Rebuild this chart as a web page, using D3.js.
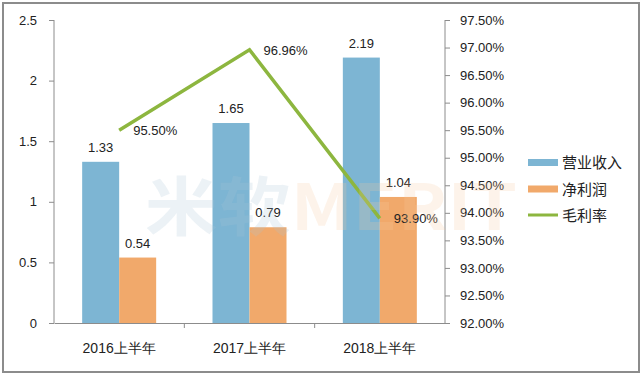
<!DOCTYPE html>
<html>
<head>
<meta charset="utf-8">
<script src="https://cdn.jsdelivr.net/npm/d3@7"></script>
<style>
body { margin: 0; background: #fff; }
text { font-family: "Liberation Sans", Arial, "Noto Sans CJK SC", sans-serif; }
</style>
</head>
<body>
<svg></svg>
<script>
const width = 643;
const height = 376;

const categories = ['2016上半年', '2017上半年', '2018上半年'];
const revenue = [1.33, 1.65, 2.19];
const profit = [0.54, 0.79, 1.04];
const margin = [95.50, 96.96, 93.90];
const leftTicks = [0, 0.5, 1, 1.5, 2, 2.5];
const rightTicks = [92, 92.5, 93, 93.5, 94, 94.5, 95, 95.5, 96, 96.5, 97, 97.5];
const legendNames = ['营业收入', '净利润', '毛利率'];

const colors = { revenue: '#7db5d3', profit: '#f1a96b', margin: '#8db63f' };

const svg = d3.select('svg').attr('width', width).attr('height', height);

// outer frame
svg.append('rect')
    .attr('x', 3).attr('y', 3).attr('width', width - 7).attr('height', height - 7)
    .attr('fill', '#fff').attr('stroke', '#8c8c8c').attr('stroke-width', 2);

const plot = { left: 54, right: 445, top: 20, bottom: 323 };

const x = d3.scaleBand().domain(categories).range([plot.left, plot.right]);
const y = d3.scaleLinear().domain([0, 2.5]).range([plot.bottom, plot.top]);
const y2 = d3.scaleLinear().domain([92, 97.5]).range([plot.bottom, plot.top]);
const barW = 37;

// bars
const g = svg.append('g');
g.selectAll('.rev').data(revenue).enter().append('rect')
    .attr('x', (d, i) => x(categories[i]) + x.bandwidth() / 2 - barW)
    .attr('y', d => y(d))
    .attr('width', barW)
    .attr('height', d => y(0) - y(d))
    .attr('fill', colors.revenue);
g.selectAll('.pro').data(profit).enter().append('rect')
    .attr('x', (d, i) => x(categories[i]) + x.bandwidth() / 2)
    .attr('y', d => y(d))
    .attr('width', barW)
    .attr('height', d => y(0) - y(d))
    .attr('fill', colors.profit);

// bar labels
g.selectAll('.revl').data(revenue).enter().append('text')
    .attr('x', (d, i) => x(categories[i]) + x.bandwidth() / 2 - barW / 2)
    .attr('y', d => y(d) - 10)
    .attr('text-anchor', 'middle')
    .style('font-size', '13px').attr('fill', '#222')
    .text(d => d.toFixed(2));
g.selectAll('.prol').data(profit).enter().append('text')
    .attr('x', (d, i) => x(categories[i]) + x.bandwidth() / 2 + barW / 2)
    .attr('y', d => y(d) - 10)
    .attr('text-anchor', 'middle')
    .style('font-size', '13px').attr('fill', '#222')
    .text(d => d.toFixed(2));

// axes
const axisColor = '#8c8c8c';
const leftAxis = svg.append('g')
    .attr('transform', `translate(${plot.left},0)`)
    .call(d3.axisLeft(y).tickValues(leftTicks).tickSize(5).tickPadding(12).tickFormat(d3.format('')));
const rightAxis = svg.append('g')
    .attr('transform', `translate(${plot.right},0)`)
    .call(d3.axisRight(y2).tickValues(rightTicks).tickSize(5).tickPadding(10).tickFormat(d => d.toFixed(2) + '%'));
const xAxis = svg.append('g')
    .attr('transform', `translate(0,${plot.bottom})`)
    .call(d3.axisBottom(x).tickSize(0).tickPadding(20));
// x tick marks at band boundaries
xAxis.selectAll('.bound').data(categories.slice(1)).enter().append('line')
    .attr('x1', d => x(d)).attr('x2', d => x(d))
    .attr('y1', 0).attr('y2', 5).attr('stroke', axisColor);

[leftAxis, rightAxis, xAxis].forEach(a => {
    a.selectAll('.domain').attr('stroke', axisColor);
    a.selectAll('.tick line').attr('stroke', axisColor);
    a.selectAll('text').style('font-size', '13px').attr('fill', '#222')
        .style('font-family', '"Liberation Sans", Arial, sans-serif');
});
leftAxis.select('.domain').attr('d', `M-0,${plot.top}V${plot.bottom}`);
rightAxis.select('.domain').attr('d', `M0,${plot.top}V${plot.bottom}`);
xAxis.selectAll('text').style('font-size', '14px');

// margin line
const line = d3.line()
    .x((d, i) => x(categories[i]) + x.bandwidth() / 2)
    .y(d => y2(d));
svg.append('path').datum(margin)
    .attr('d', line)
    .attr('fill', 'none')
    .attr('stroke', colors.margin)
    .attr('stroke-width', 3.5);
svg.selectAll('.ml').data(margin).enter().append('text')
    .attr('x', (d, i) => x(categories[i]) + x.bandwidth() / 2 + 14)
    .attr('y', d => y2(d) + 5)
    .style('font-size', '13px').attr('fill', '#222')
    .text(d => d.toFixed(2) + '%');

// watermark, faint, drawn over the marks
const wm = svg.append('text')
    .attr('x', 145).attr('y', 230)
    .attr('textLength', 372).attr('lengthAdjust', 'spacingAndGlyphs')
    .style('font-size', '64px').style('font-weight', 'bold')
    .style('font-family', '"Noto Sans CJK SC", sans-serif')
    .attr('fill-opacity', 0.22);
wm.append('tspan').attr('fill', '#a9c3d8').text('米软');
wm.append('tspan').attr('fill', '#f7c9a0').text('MERIT');

// legend
const legend = svg.append('g').attr('transform', 'translate(528,162)');
legendNames.forEach((name, i) => {
    const row = legend.append('g').attr('transform', `translate(0,${i * 26.5})`);
    if (i < 2) {
        row.append('rect').attr('x', 0).attr('y', -3).attr('width', 30).attr('height', 7)
            .attr('fill', i === 0 ? colors.revenue : colors.profit);
    } else {
        row.append('line').attr('x1', 0).attr('x2', 30).attr('y1', 0).attr('y2', 0)
            .attr('stroke', colors.margin).attr('stroke-width', 3);
    }
    row.append('text').attr('x', 34).attr('y', 6)
        .style('font-size', '15px').attr('fill', '#222')
        .style('font-family', '"Noto Sans CJK SC", sans-serif')
        .text(name);
});
</script>
</body>
</html>
